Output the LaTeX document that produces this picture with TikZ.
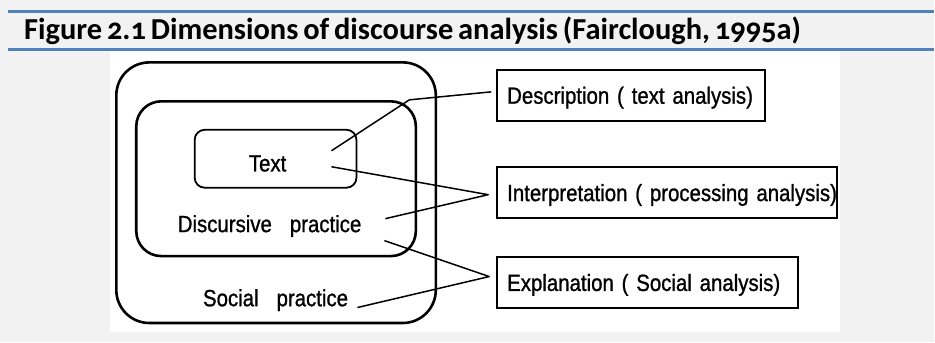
\documentclass[tikz,border=0pt]{standalone}
\usepackage{fontspec}
\newfontfamily\diagfont[FakeStretch=0.87, WordSpace=0.75, FakeBold=1]{Liberation Sans}
\newfontfamily\titlefont[Numbers=OldStyle, WordSpace=0.7]{Carlito}
\usetikzlibrary{positioning}
\definecolor{bandgray}{HTML}{F2F2F2}
\definecolor{ruleblue}{HTML}{4F81BD}
\tikzset{
  practicebox/.style={draw, rectangle, inner sep=0pt, line width=2.6pt},
  analysisbox/.style={draw, rectangle, anchor=west, line width=2pt, minimum height=51pt, inner xsep=10pt,
    text width=#1, align=left, text height=16.8pt, text depth=0pt, font=\diagfont\fontsize{23.5}{26}\selectfont},
  plaintext/.style={anchor=base, inner sep=0pt, font=\diagfont\fontsize{23.5}{26}\selectfont},
  link/.style={line width=1.5pt, line join=round}
}

\begin{document}
\begin{tikzpicture}[x=1pt, y=-1pt]
        % Background with the caption band
        \fill[bandgray] (0,0) rectangle (935,343);
        \draw[ruleblue, line width=3pt] (8,12) -- (935,12);
        \draw[ruleblue, line width=3pt] (8,50) -- (935,50);
        \fill[white] (110,51.5) rectangle (841,333);
        \node[anchor=west, inner sep=0pt, font=\titlefont\bfseries\fontsize{30.5}{32}\selectfont] (title) at (24,31) {Figure 2.1 Dimensions of discourse analysis (Fairclough, 1995a)};
        
        % Nested practice frames
        \node[practicebox, rounded corners=33pt, minimum width=320pt, minimum height=261pt] (social) at (276.5,193) {};
        \node[practicebox, rounded corners=25pt, minimum width=280pt, minimum height=155pt] (discursive) at (276.5,179) {};
        \node[practicebox, rounded corners=10pt, line width=1.8pt, minimum width=162pt, minimum height=58pt] (textbox) at (276,159) {};
        
        \node[plaintext] (txt) at (268,171.7) {Text};
        \node[plaintext] (disc) at (270,232.5) {Discursive\hspace{18pt}practice};
        \node[plaintext] (soc) at (276,306.7) {Social\hspace{18pt}practice};
        
        % Analysis boxes on the right
        \node[analysisbox=248pt] (desc) at (497,95.5) {\mbox{Description ( text analysis)}};
        \node[analysisbox=320pt] (interp) at (497,193) {\mbox{Interpretation ( processing analysis)}};
        \node[analysisbox=281pt] (expl) at (497,283) {\mbox{Explanation ( Social analysis)}};
        
        % Line ends inside the frames
        \coordinate (t1) at (332,151);
        \coordinate (bend) at (410,100);
        \coordinate (t2) at (332,167);
        \coordinate (d1) at (386,219);
        \coordinate (d2) at (385,241);
        \coordinate (s1) at (358,308);
        
        % Connect levels with their analyses
        \draw[link] (t1) -- (bend) -- ([xshift=-5pt, yshift=3.5pt]desc.west);
        \draw[link] (t2) -- ([xshift=-8pt, yshift=-2pt]interp.west) -- (d1);
        \draw[link] (d2) -- ([xshift=-7pt, yshift=6pt]expl.west) -- (s1);
    \end{tikzpicture}
\end{document}
